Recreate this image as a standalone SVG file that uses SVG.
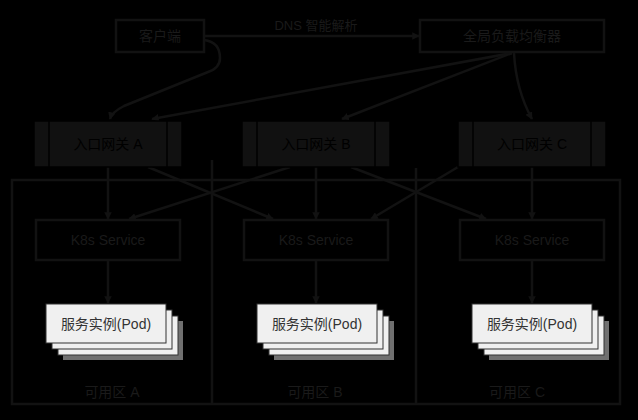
<svg xmlns="http://www.w3.org/2000/svg" width="638" height="420" viewBox="0 0 638 420">
<defs>
<style>
.box{fill:none;stroke:#121212;stroke-width:2.5}
.dark{fill:#111;stroke:#000;stroke-width:1.5}
.edge{fill:none;stroke:#121212;stroke-width:2.5}
.t{font-family:"Liberation Sans","Noto Sans CJK SC",sans-serif;font-size:14px;text-anchor:middle;fill:#1a1a1a}
.tk{font-family:"Liberation Sans","Noto Sans CJK SC",sans-serif;font-size:14px;text-anchor:middle;fill:#000}
.pod{fill:#f0f0f0;stroke:#333;stroke-width:1}
.sh{fill:#707070}
.pt{font-family:"Liberation Sans","Noto Sans CJK SC",sans-serif;font-size:14px;text-anchor:middle;fill:#333}
</style>
<marker id="arr" viewBox="0 0 10 10" refX="9" refY="5" markerWidth="3" markerHeight="3" orient="auto"><path d="M0,0 L10,5 L0,10 z" fill="#121212"/></marker>
</defs>
<rect x="0" y="0" width="638" height="420" fill="#000"/>

<g id="pool">
<rect class="box" x="12" y="180" width="608" height="224"/>
<line class="box" x1="212" y1="160" x2="212" y2="404"/>
<line class="box" x1="416" y1="168" x2="416" y2="404"/>
<text class="t" x="112" y="397">可用区 A</text>
<text class="t" x="315" y="397">可用区 B</text>
<text class="t" x="517" y="397">可用区 C</text>
</g>

<g id="connectors">
<path class="edge" d="M204,36 L419,36" marker-end="url(#arr)"/>
<text class="t" x="316" y="30" style="font-size:13px">DNS 智能解析</text>
<path class="edge" d="M204,40 Q220,42 220,58 Q220,68 208,72 L124,106 Q112,112 110,119" marker-end="url(#arr)"/>
<path class="edge" d="M512,53 L152,119" marker-end="url(#arr)"/>
<path class="edge" d="M512,53 L342,119" marker-end="url(#arr)"/>
<path class="edge" d="M514,53 Q516,90 532,119" marker-end="url(#arr)"/>
<path class="edge" d="M108,167 L108,219" marker-end="url(#arr)"/>
<path class="edge" d="M316,167 L316,219" marker-end="url(#arr)"/>
<path class="edge" d="M532,167 L532,219" marker-end="url(#arr)"/>
<path class="edge" d="M148,167 L273,219" marker-end="url(#arr)"/>
<path class="edge" d="M290,167 L129,219" marker-end="url(#arr)"/>
<path class="edge" d="M351,167 L486,219" marker-end="url(#arr)"/>
<path class="edge" d="M458,167 L371,219" marker-end="url(#arr)"/>
<path class="edge" d="M108,260 L108,303" marker-end="url(#arr)"/>
<path class="edge" d="M316,260 L316,303" marker-end="url(#arr)"/>
<path class="edge" d="M532,260 L532,303" marker-end="url(#arr)"/>
</g>

<g id="client">
<rect class="box" x="116" y="20" width="88" height="32"/>
<text class="t" x="160" y="41">客户端</text>
</g>
<g id="gslb">
<rect class="box" x="420" y="20" width="184" height="32"/>
<text class="t" x="512" y="41">全局负载均衡器</text>
</g>

<g id="gateway-a">
<rect class="dark" x="34" y="121" width="148" height="46"/>
<line x1="49" y1="121" x2="49" y2="167" stroke="#000" stroke-width="1.5"/>
<line x1="167" y1="121" x2="167" y2="167" stroke="#000" stroke-width="1.5"/>
<text class="tk" x="108" y="149">入口网关 A</text>
</g>
<g id="gateway-b">
<rect class="dark" x="242" y="121" width="148" height="46"/>
<line x1="257" y1="121" x2="257" y2="167" stroke="#000" stroke-width="1.5"/>
<line x1="375" y1="121" x2="375" y2="167" stroke="#000" stroke-width="1.5"/>
<text class="tk" x="316" y="149">入口网关 B</text>
</g>
<g id="gateway-c">
<rect class="dark" x="458" y="121" width="148" height="46"/>
<line x1="473" y1="121" x2="473" y2="167" stroke="#000" stroke-width="1.5"/>
<line x1="591" y1="121" x2="591" y2="167" stroke="#000" stroke-width="1.5"/>
<text class="tk" x="532" y="149">入口网关 C</text>
</g>

<g id="svc-a">
<rect class="box" x="36" y="220" width="144" height="40"/>
<text class="t" x="108" y="245">K8s Service</text>
</g>
<g id="svc-b">
<rect class="box" x="244" y="220" width="144" height="40"/>
<text class="t" x="316" y="245">K8s Service</text>
</g>
<g id="svc-c">
<rect class="box" x="460" y="220" width="144" height="40"/>
<text class="t" x="532" y="245">K8s Service</text>
</g>

<g id="pod-a">
<rect class="sh" x="63" y="321" width="120" height="39"/>
<rect class="pod" x="58" y="316" width="120" height="39"/>
<rect class="pod" x="52" y="310" width="120" height="39"/>
<rect class="pod" x="46" y="304" width="120" height="39"/>
<text class="pt" x="106" y="328.5">服务实例(Pod)</text>
</g>
<g id="pod-b">
<rect class="sh" x="274" y="321" width="120" height="39"/>
<rect class="pod" x="269" y="316" width="120" height="39"/>
<rect class="pod" x="263" y="310" width="120" height="39"/>
<rect class="pod" x="257" y="304" width="120" height="39"/>
<text class="pt" x="317" y="328.5">服务实例(Pod)</text>
</g>
<g id="pod-c">
<rect class="sh" x="489" y="321" width="120" height="39"/>
<rect class="pod" x="484" y="316" width="120" height="39"/>
<rect class="pod" x="478" y="310" width="120" height="39"/>
<rect class="pod" x="472" y="304" width="120" height="39"/>
<text class="pt" x="532" y="328.5">服务实例(Pod)</text>
</g>
</svg>
